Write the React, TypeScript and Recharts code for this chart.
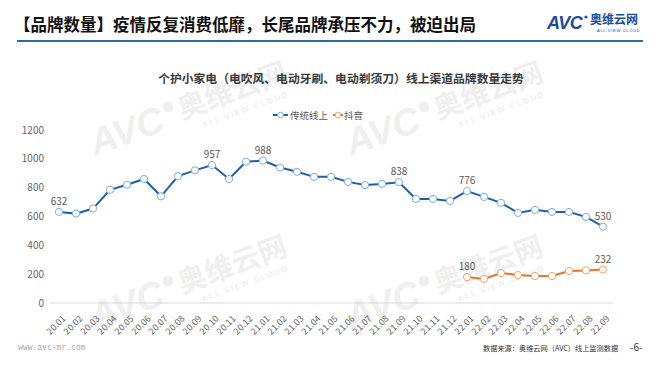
import React from 'react';
import { LabelList, Line, LineChart, XAxis, YAxis } from 'recharts';

const months = [
  '20.01', '20.02', '20.03', '20.04', '20.05', '20.06', '20.07', '20.08', '20.09', '20.10', '20.11', '20.12',
  '21.01', '21.02', '21.03', '21.04', '21.05', '21.06', '21.07', '21.08', '21.09', '21.10', '21.11', '21.12',
  '22.01', '22.02', '22.03', '22.04', '22.05', '22.06', '22.07', '22.08', '22.09',
];

// 传统线上
const traditional = [
  632, 620, 655, 785, 820, 860, 740, 880, 920, 957, 860, 980,
  988, 940, 910, 875, 875, 840, 818, 826, 838, 722, 722, 708,
  776, 736, 695, 625, 646, 632, 632, 597, 530,
];

// 抖音 (from 22.01)
const douyin = [
  null, null, null, null, null, null, null, null, null, null, null, null,
  null, null, null, null, null, null, null, null, null, null, null, null,
  180, 167, 208, 194, 187, 187, 222, 226, 232,
];

const labeledTraditional = ['20.01', '20.10', '21.01', '21.09', '22.01', '22.09'];
const labeledDouyin = ['22.01', '22.09'];
const yTicks = [0, 200, 400, 600, 800, 1000, 1200];

const data = months.map((m, i) => ({ month: m, traditional: traditional[i], douyin: douyin[i] }));

const FONT = '"Noto Sans CJK SC", "Noto Sans", sans-serif';
const BLUE = '#1f5fae';
const ORANGE = '#e2772e';

const XTick = (props: any) => {
  const { x, y, payload } = props;
  return (
    <g transform={`translate(${x + 3},${y + 4})`}>
      <text x={0} y={0} dy={6} textAnchor="end" transform="rotate(-45)" fontSize={9} fill="#666">
        {payload.value}
      </text>
    </g>
  );
};

const makeDot = (stroke: string) => (props: any) => {
  const { cx, cy, value, index } = props;
  if (value == null || cx == null || cy == null) return <g key={index} />;
  return <circle key={index} cx={cx} cy={cy} r={3.6} fill="#fff" stroke={stroke} strokeWidth={1} />;
};

const makeLabel = (keep: string[]) => (props: any) => {
  const { x, y, value, index } = props;
  if (value == null || !keep.includes(months[index])) return null;
  return (
    <text x={x} y={y - 7} textAnchor="middle" fontSize={10} fill="#595959">
      {value}
    </text>
  );
};

const Watermark = ({ x, y }: { x: number; y: number }) => (
  <g transform={`translate(${x},${y}) rotate(-20) scale(0.75)`} fill="#efefef">
    <text x={0} y={0} fontSize={50} fontWeight={700} fontStyle="italic" fontFamily="Arial, sans-serif">
      AVC
    </text>
    <circle cx={114} cy={-28} r={7} />
    <text x={126} y={-6} fontSize={38} fontWeight={700} fontFamily={FONT}>
      奥维云网
    </text>
    <text x={148} y={14} fontSize={11} fontWeight={700} fontFamily="Arial, sans-serif" letterSpacing={2}>
      ALL VIEW CLOUD
    </text>
  </g>
);

export default function App() {
  return (
    <div style={{ position: 'relative', width: 660, height: 372, background: '#fff', fontFamily: FONT, overflow: 'hidden' }}>
      <style>{'body{margin:0}'}</style>
      <svg width={660} height={372} style={{ position: 'absolute', left: 0, top: 0 }}>
        <Watermark x={95} y={156} />
        <Watermark x={95} y={330} />
        <Watermark x={351} y={156} />
        <Watermark x={351} y={330} />
      </svg>

      <div style={{ position: 'absolute', left: 14, top: 11, fontSize: 16.5, fontWeight: 700, color: '#111', lineHeight: '26px', whiteSpace: 'nowrap' }}>
        【品牌数量】疫情反复消费低靡，长尾品牌承压不力，被迫出局
      </div>
      <div style={{ position: 'absolute', left: 17, top: 40, width: 626, height: 2, background: '#2e6aa6' }} />
      <svg width={100} height={40} style={{ position: 'absolute', left: 545, top: 2 }}>
        <text x={2} y={27} fontSize={18} fontWeight={900} fontStyle="italic" fill="#1c4c9c" fontFamily="Arial, sans-serif" letterSpacing={-0.5}>
          AVC
        </text>
        <circle cx={41} cy={15} r={1.6} fill="#1c4c9c" />
        <text x={45} y={22} fontSize={12} fontWeight={700} fill="#1c4c9c" fontFamily={FONT}>
          奥维云网
        </text>
        <text x={52} y={30} fontSize={4.2} fill="#1c4c9c" fontFamily="Arial, sans-serif" letterSpacing={0.6}>
          ALL VIEW CLOUD
        </text>
      </svg>

      <div style={{ position: 'absolute', left: 11, width: 660, top: 69, textAlign: 'center', fontSize: 11.8, color: '#3a3a3a', fontWeight: 700, lineHeight: '18px' }}>
        个护小家电（电吹风、电动牙刷、电动剃须刀）线上渠道品牌数量走势
      </div>

      <div style={{ position: 'absolute', left: 0, top: 0 }}>
        <LineChart width={660} height={372} data={data} margin={{ top: 130, right: 47, left: 0, bottom: 29 }}>
          <XAxis
            dataKey="month"
            interval={0}
            tick={<XTick />}
            tickLine={false}
            axisLine={{ stroke: '#d9d9d9' }}
            padding={{ left: 9, right: 10 }}
            height={40}
          />
          <YAxis
            domain={[0, 1200]}
            ticks={yTicks}
            width={50}
            tickLine={false}
            axisLine={false}
            tickSize={0}
            tickMargin={6}
            tick={{ fontSize: 10, fill: '#666' }}
          />
          <Line
            dataKey="traditional"
            name="传统线上"
            stroke={BLUE}
            strokeWidth={2}
            dot={makeDot('#7aaee0')}
            activeDot={false}
            isAnimationActive={false}
          >
            <LabelList dataKey="traditional" content={makeLabel(labeledTraditional)} />
          </Line>
          <Line
            dataKey="douyin"
            name="抖音"
            stroke={ORANGE}
            strokeWidth={2}
            dot={makeDot('#f2a36a')}
            activeDot={false}
            isAnimationActive={false}
          >
            <LabelList dataKey="douyin" content={makeLabel(labeledDouyin)} />
          </Line>
        </LineChart>
      </div>

      <svg width={120} height={16} style={{ position: 'absolute', left: 270, top: 107 }}>
        <line x1={3} y1={8} x2={18} y2={8} stroke={BLUE} strokeWidth={2} />
        <circle cx={10.5} cy={8} r={2.8} fill="#fff" stroke="#7aaee0" strokeWidth={1} />
        <text x={20} y={11.5} fontSize={9.5} fill="#595959" fontFamily={FONT}>传统线上</text>
        <line x1={63} y1={8} x2={73} y2={8} stroke={ORANGE} strokeWidth={2} />
        <circle cx={68} cy={8} r={2.8} fill="#fff" stroke="#f2a36a" strokeWidth={1} />
        <text x={74} y={11.5} fontSize={9.5} fill="#595959" fontFamily={FONT}>抖音</text>
      </svg>

      <div style={{ position: 'absolute', left: 18, top: 343, fontSize: 8, color: '#aaa', fontFamily: '"DejaVu Sans Mono", monospace', lineHeight: '10px' }}>
        www.avc-mr.com
      </div>
      <div style={{ position: 'absolute', left: 483, top: 343, fontSize: 7.2, color: '#333', lineHeight: '10px', whiteSpace: 'nowrap' }}>
        数据来源：奥维云网（AVC）线上监测数据
      </div>
      <div style={{ position: 'absolute', left: 630, top: 341, fontSize: 10, color: '#333', lineHeight: '12px' }}>
        -6-
      </div>
    </div>
  );
}
